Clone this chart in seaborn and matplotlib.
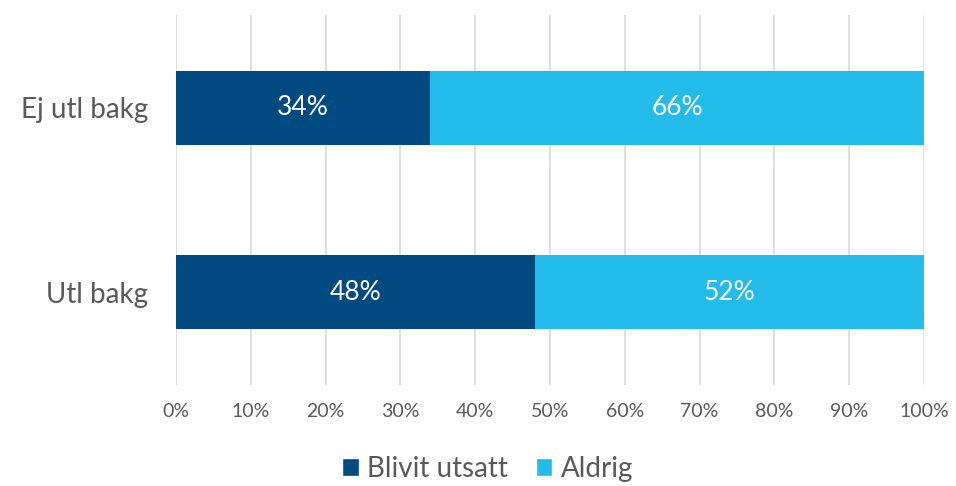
import pandas as pd
import seaborn as sns
import matplotlib.pyplot as plt
from matplotlib.patches import Patch

# Data
groups = ['Ej utl bakg', 'Utl bakg']
utsatt = [34, 48]
aldrig = [66, 52]
series = ['Blivit utsatt', 'Aldrig']
colors = ['#004A82', '#22BBEA']
text_col = '#595959'

sns.set_theme(style='white')
plt.rcParams['font.family'] = ['Lato', 'DejaVu Sans']

df = pd.DataFrame({'grupp': groups, 'utsatt': utsatt, 'aldrig': aldrig})
df['total'] = df['utsatt'] + df['aldrig']

fig = plt.figure(figsize=(9.56, 4.86), dpi=100)
ax = fig.add_axes([0.184, 0.208, 0.7825, 0.761])

# Stacked: draw totals first, then the first segment on top
sns.barplot(data=df, x='total', y='grupp', color=colors[1], orient='h',
            width=0.4, ax=ax, saturation=1, zorder=2, linewidth=0)
sns.barplot(data=df, x='utsatt', y='grupp', color=colors[0], orient='h',
            width=0.4, ax=ax, saturation=1, zorder=3, linewidth=0)

for i, (u, a) in enumerate(zip(utsatt, aldrig)):
    ax.text(u / 2, i, f'{u}%', ha='center', va='center', color='white', fontsize=19, zorder=4)
    ax.text(u + a / 2, i, f'{a}%', ha='center', va='center', color='white', fontsize=19, zorder=4)

ax.set_xlim(0, 100)
ax.set_ylim(1.5, -0.5)
ax.set_xticks(range(0, 101, 10))
ax.set_xticklabels([f'{v}%' for v in range(0, 101, 10)], fontsize=14, color=text_col)
ax.tick_params(axis='y', labelsize=20, labelcolor=text_col, length=0, pad=20)
ax.tick_params(axis='x', length=0, pad=13)
ax.set_xlabel('')
ax.set_ylabel('')
ax.grid(axis='x', color='#D9D9D9', linewidth=1.2, zorder=0)
ax.set_axisbelow(True)
for s in ax.spines.values():
    s.set_visible(False)

handles = [Patch(facecolor=c, label=l) for c, l in zip(colors, series)]
fig.legend(handles=handles, loc='center', bbox_to_anchor=(0.51, 0.035), ncol=2,
           frameon=False, fontsize=20, labelcolor=text_col, handlelength=0.6,
           handleheight=0.6, handletextpad=0.3, columnspacing=1.0)

fig.savefig('out.png', dpi=100)
